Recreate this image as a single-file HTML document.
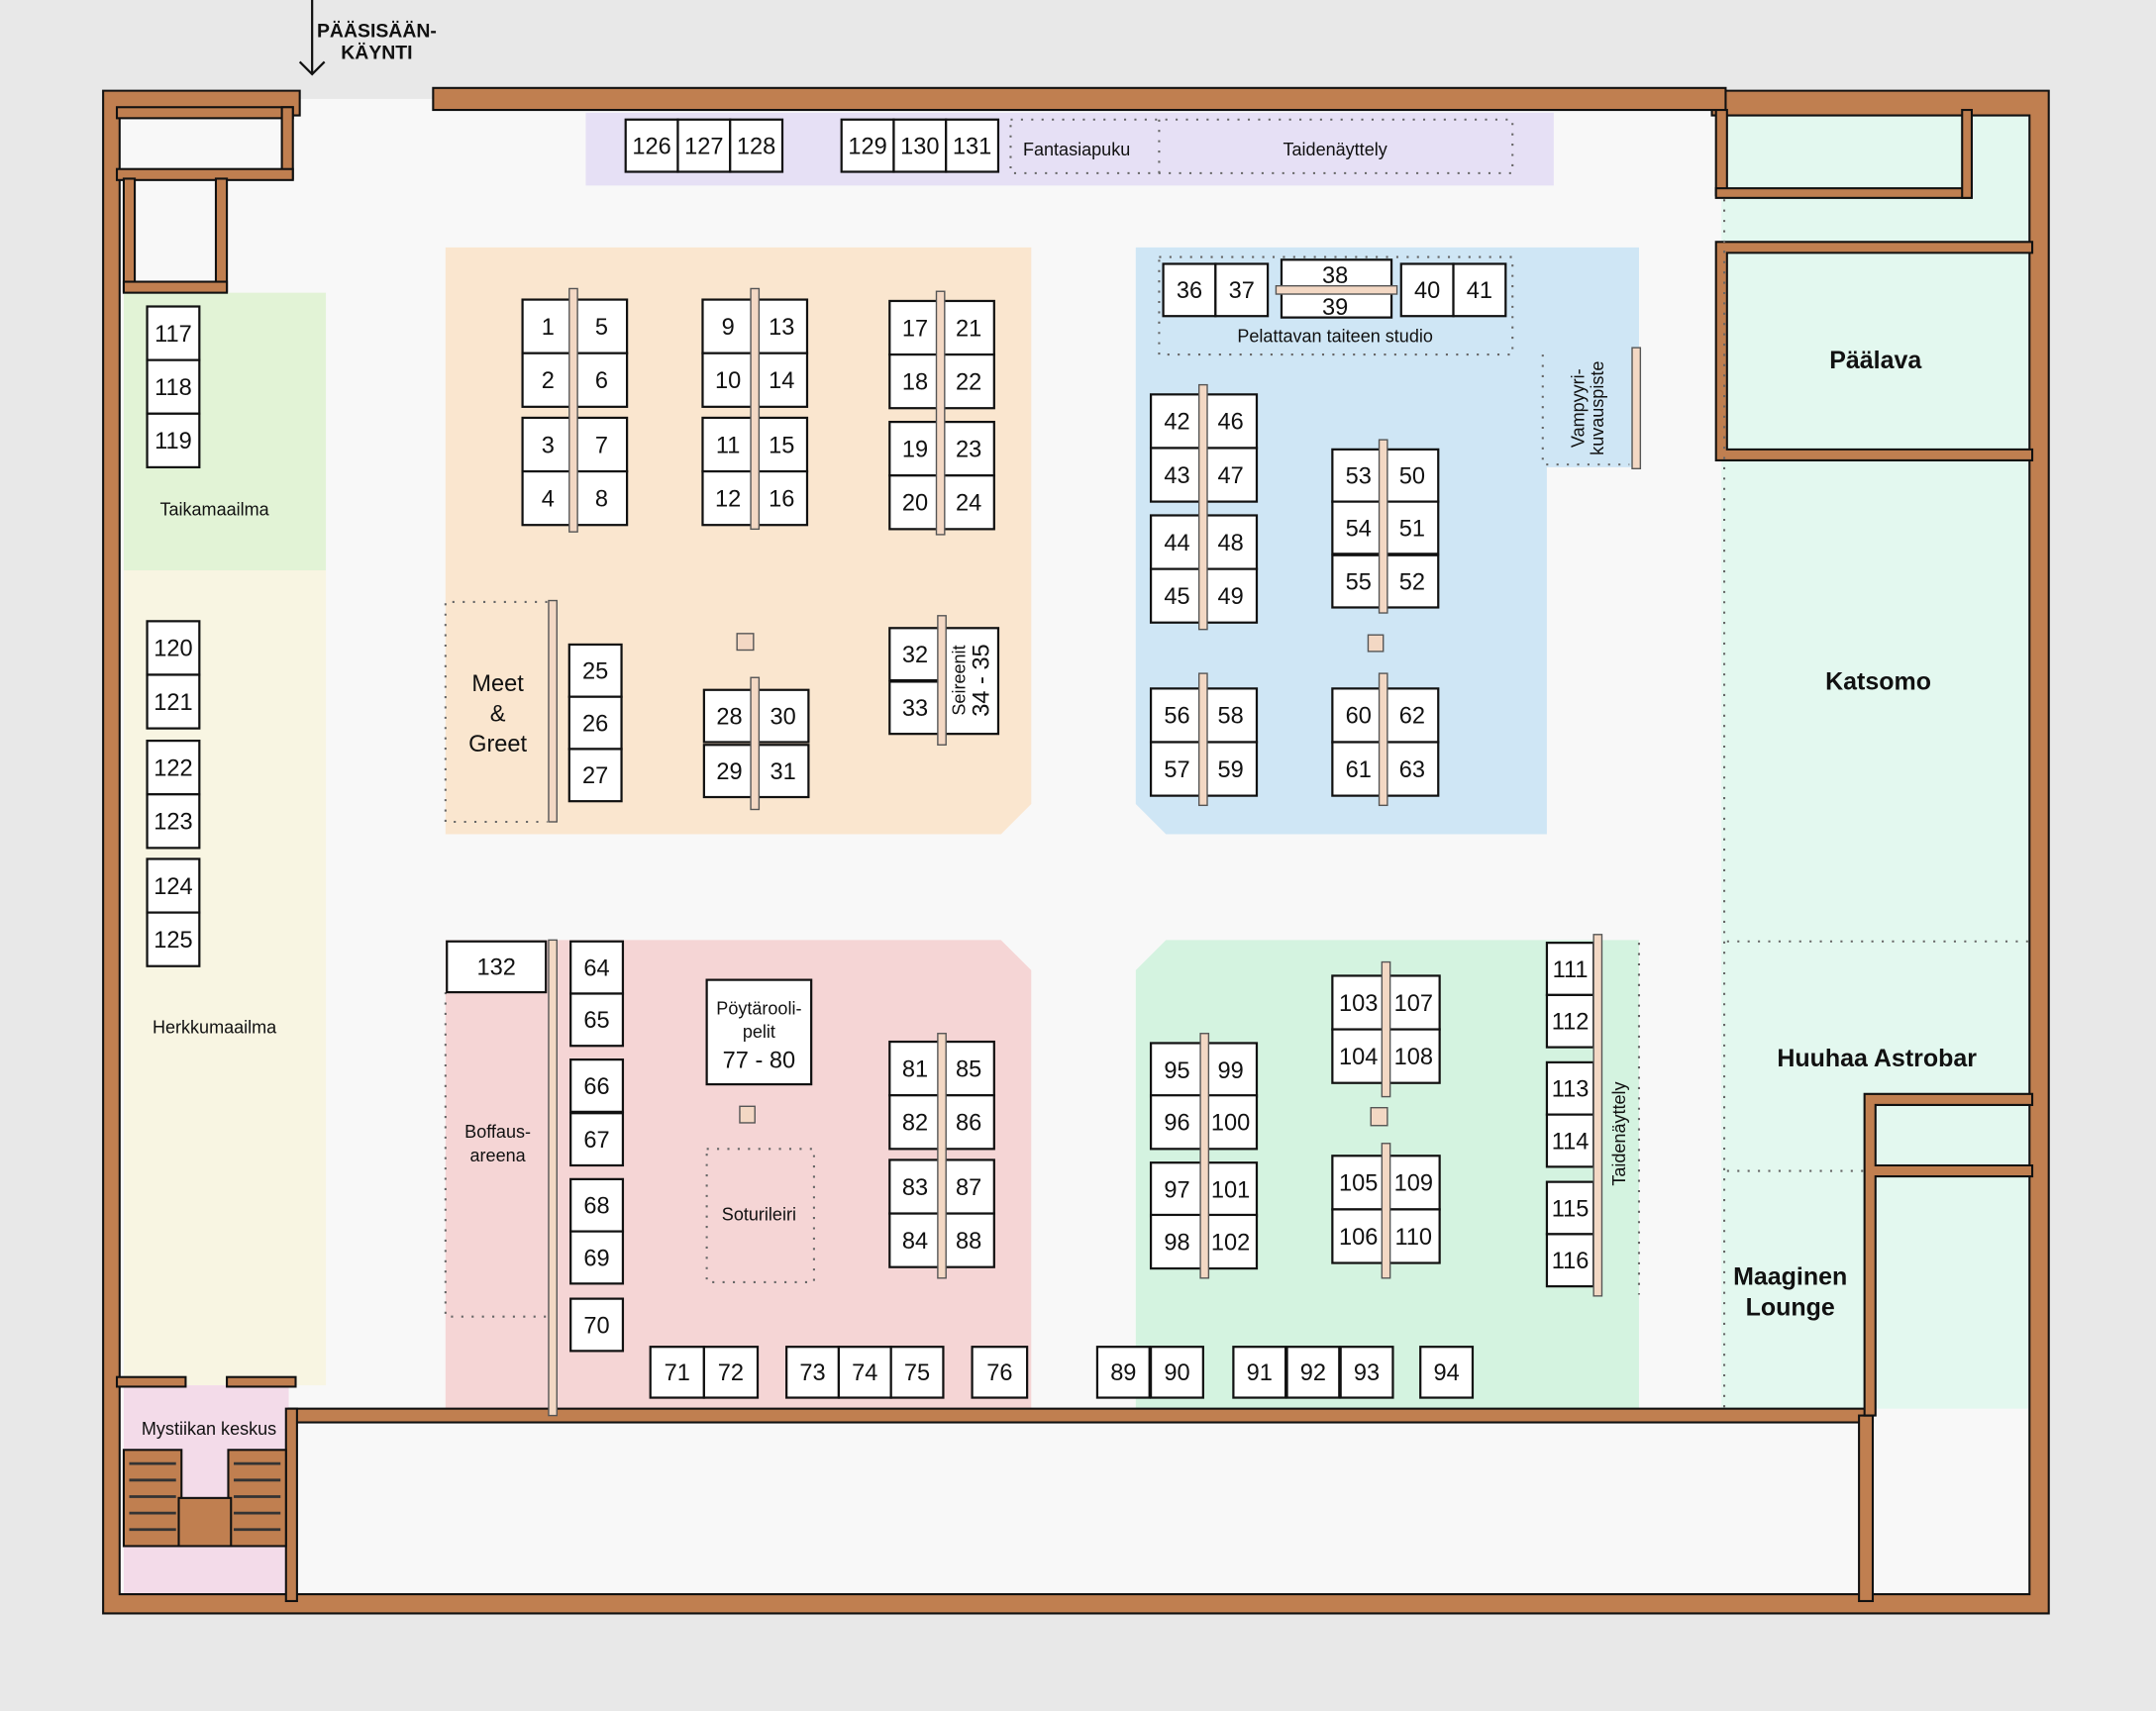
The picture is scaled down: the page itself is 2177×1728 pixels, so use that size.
<!DOCTYPE html>
<html><head><meta charset="utf-8"><style>
html,body{margin:0;padding:0;background:#e8e8e8}
svg{display:block}
text{font-family:"Liberation Sans",sans-serif;fill:#111}
.b{fill:#fff;stroke:#111;stroke-width:1.6}
.n{font-size:17px;text-anchor:middle}
.l{font-size:13px;text-anchor:middle}
.L{font-size:18px;text-anchor:middle;font-weight:bold}
.w{fill:#c07f50;stroke:#111;stroke-width:1.5}
.p{fill:#f3d8c4;stroke:#555;stroke-width:1}
.d{fill:none;stroke:#666;stroke-width:1.5;stroke-dasharray:1.5 6}
</style></head><body>
<svg width="2177" height="1728" viewBox="0 0 1568 1245" preserveAspectRatio="none" xmlns="http://www.w3.org/2000/svg">
<rect width="1568" height="1245" fill="#e8e8e8"/>
<rect x="80" y="72" width="1405" height="1095" fill="#f8f8f8"/>
<!-- zones -->
<rect x="426" y="82" width="704" height="53" fill="#e6e0f5"/>
<path d="M324 180H750V585L728 607H324Z" fill="#fae6cf"/>
<path d="M826 180H1192V340H1125V607H848L826 585Z" fill="#cfe6f5"/>
<rect x="90" y="213" width="147" height="202" fill="#e2f3d6"/>
<rect x="90" y="415" width="147" height="593" fill="#f8f5e2"/>
<path d="M324 684H728L750 706V1030H324Z" fill="#f5d5d5"/>
<path d="M848 684H1192V1030H826V706Z" fill="#d4f3e0"/>
<rect x="1252" y="82" width="223" height="943" fill="#e3f8ef"/>
<rect x="90" y="1008" width="120" height="152" fill="#f3dbe9"/>
<!-- walls -->
<path class="w" d="M75 66H218V84H87V1160H1476V84H1245V66H1490V1174H75Z"/>
<rect class="w" x="315" y="64" width="940" height="16"/>
<rect class="w" x="85" y="78" width="128" height="8"/><rect class="w" x="205" y="78" width="8" height="52"/>
<rect class="w" x="85" y="123" width="128" height="8"/>
<rect class="w" x="90" y="130" width="8" height="82"/><rect class="w" x="157" y="130" width="8" height="82"/>
<rect class="w" x="90" y="205" width="75" height="8"/>
<rect class="w" x="210" y="1025" width="1152" height="10"/>
<rect class="w" x="208" y="1025" width="8" height="140"/>
<rect class="w" x="1352" y="1030" width="10" height="135"/>
<rect class="w" x="85" y="1002" width="50" height="7"/><rect class="w" x="165" y="1002" width="50" height="7"/>
<rect class="w" x="1248" y="80" width="8" height="62"/><rect class="w" x="1248" y="137" width="185" height="7"/><rect class="w" x="1427" y="80" width="7" height="64"/>
<path class="w" d="M1248 176H1478V184H1256V327H1478V335H1248Z"/>
<path class="w" d="M1356 796H1478V804H1364V848H1478V856H1364V1030H1356Z"/>
<rect class="w" x="90" y="1055" width="42" height="70"/><rect class="w" x="166" y="1055" width="42" height="70"/><rect class="w" x="130" y="1090" width="38" height="35"/>
<g stroke="#333" stroke-width="2"><path d="M94 1065H128M94 1077H128M94 1089H128M94 1101H128M94 1113H128M170 1065H204M170 1077H204M170 1089H204M170 1101H204M170 1113H204"/></g>
<!-- entrance -->
<path d="M227 0V54M218 45L227 54L236 45" stroke="#111" stroke-width="1.6" fill="none"/>
<text x="274" y="27" style="font-size:14px;font-weight:bold" text-anchor="middle">PÄÄSISÄÄN-</text>
<text x="274" y="43" style="font-size:14px;font-weight:bold" text-anchor="middle">KÄYNTI</text>
<!-- dotted -->
<path class="d" d="M735 87H1100V126H735ZM843 87V126"/>
<rect class="d" x="843" y="187" width="257" height="71"/>
<path class="d" d="M1122 258V338H1185"/>
<path class="d" d="M398 438H324V598H398"/>
<path class="d" d="M324 722V958H398"/>
<rect class="d" x="514" y="836" width="78" height="97"/>
<path class="d" d="M1192 686V942"/>
<path class="d" d="M1254 145V1025M1256 685H1475M1256 852H1356"/>
<!-- booths -->
<g id="booths"></g>
<!-- poles -->
<g>
<rect class="p" x="414" y="210" width="6" height="177"/>
<rect class="p" x="546" y="210" width="6" height="175"/>
<rect class="p" x="681" y="212" width="6" height="177"/>
<rect class="p" x="399" y="437" width="6" height="161"/>
<rect class="p" x="546" y="493" width="6" height="96"/>
<rect class="p" x="682" y="448" width="6" height="94"/>
<rect class="p" x="872" y="280" width="6" height="178"/>
<rect class="p" x="1003" y="320" width="6" height="126"/>
<rect class="p" x="872" y="490" width="6" height="96"/>
<rect class="p" x="1003" y="490" width="6" height="96"/>
<rect class="p" x="1187" y="253" width="6" height="88"/>
<rect class="p" x="399" y="684" width="6" height="346"/>
<rect class="p" x="682" y="752" width="6" height="178"/>
<rect class="p" x="873" y="752" width="6" height="178"/>
<rect class="p" x="1005" y="700" width="6" height="98"/>
<rect class="p" x="1005" y="832" width="6" height="98"/>
<rect class="p" x="1159" y="680" width="6" height="263"/>
<rect class="p" x="536" y="461" width="12" height="12"/>
<rect class="p" x="538" y="805" width="11" height="12"/>
<rect class="p" x="995" y="462" width="11" height="12"/>
<rect class="p" x="997" y="806" width="12" height="13"/>
</g>
<!-- labels -->
<text class="l" x="783" y="113">Fantasiapuku</text>
<text class="l" x="971" y="113">Taidenäyttely</text>
<text class="l" x="971" y="249">Pelattavan taiteen studio</text>
<text class="l" x="156" y="375">Taikamaailma</text>
<text class="l" x="156" y="752">Herkkumaailma</text>
<text class="l" x="152" y="1044">Mystiikan keskus</text>
<text class="l" x="362" y="828">Boffaus-</text><text class="l" x="362" y="845">areena</text>
<text class="l" x="552" y="888">Soturileiri</text>
<text style="font-size:17px" text-anchor="middle" x="362" y="503">Meet</text>
<text style="font-size:17px" text-anchor="middle" x="362" y="525">&amp;</text>
<text style="font-size:17px" text-anchor="middle" x="362" y="547">Greet</text>
<text class="l" transform="translate(1152,297) rotate(-90)">Vampyyri-</text>
<text class="l" transform="translate(1166,297) rotate(-90)">kuvauspiste</text>
<text class="l" transform="translate(1182,825) rotate(-90)">Taidenäyttely</text>
<text class="L" x="1364" y="268">Päälava</text>
<text class="L" x="1366" y="502">Katsomo</text>
<text class="L" x="1365" y="776">Huuhaa Astrobar</text>
<text class="L" x="1302" y="935">Maaginen</text><text class="L" x="1302" y="957">Lounge</text>
</svg>
<script>
var g=document.getElementById('booths');
function B(x,y,w,h,t){var r=document.createElementNS('http://www.w3.org/2000/svg','rect');r.setAttribute('class','b');r.setAttribute('x',x);r.setAttribute('y',y);r.setAttribute('width',w);r.setAttribute('height',h);g.appendChild(r);
if(t!==''){var s=document.createElementNS('http://www.w3.org/2000/svg','text');s.setAttribute('class','n');s.setAttribute('x',x+w/2);s.setAttribute('y',y+h/2+6);s.textContent=t;g.appendChild(s);}}
function col(x,ys,w,h,start){ys.forEach(function(y,i){B(x,y,w,h,String(start+i));});}
function row(xs,y,w,h,start){xs.forEach(function(x,i){B(x,y,w,h,String(start+i));});}
row([455,493,531],87,38,38,126);row([612,650,688],87,38,38,129);
col(380,[218,257,304,343],37,39,1);col(419,[218,257,304,343],37,39,5);
col(511,[218,257,304,343],37,39,9);col(550,[218,257,304,343],37,39,13);
col(647,[219,258,307,346],37,39,17);col(686,[219,258,307,346],37,39,21);
col(414,[469,507,545],38,38,25);
col(512,[502,542],37,38,28);col(551,[502,542],37,38,30);
col(647,[457,496],37,38,32);B(686,457,40,77,'');
row([846,884],192,38,38,36);B(932,189,80,42,'');row([1019,1057],192,38,38,40);
col(837,[287,326,375,414],38,39,42);col(876,[287,326,375,414],38,39,46);
col(969,[327,365,404],38,38,53);col(1008,[327,365,404],38,38,50);
col(837,[501,540],38,39,56);col(876,[501,540],38,39,58);
col(969,[501,540],38,39,60);col(1008,[501,540],38,39,62);
B(325,685,72,37,'132');
col(415,[685,723],38,38,64);col(415,[771,810],38,38,66);col(415,[858,896],38,38,68);B(415,945,38,38,'70');
B(514,713,76,76,'');
col(647,[758,797,844,883],37,39,81);col(686,[758,797,844,883],37,39,85);
row([473,512],980,39,37,71);row([572,610,648],980,38,37,73);B(707,980,40,37,'76');
col(837,[759,797,846,884],38,39,95);col(876,[759,797,846,884],38,39,99);
col(969,[710,749],38,39,103);col(1009,[710,749],38,39,107);
col(969,[841,880],38,39,105);col(1009,[841,880],38,39,109);
col(1125,[686,724],34,38,111);col(1125,[773,811],34,38,113);col(1125,[860,898],34,38,115);
row([798,837],980,38,37,89);row([897,936,975],980,38,37,91);B(1033,980,38,37,'94');
col(107,[223,262,301],38,39,117);
col(107,[452,491],38,39,120);col(107,[539,578],38,39,122);col(107,[625,664],38,39,124);
var NS='http://www.w3.org/2000/svg';
function T(x,y,t,c,tr){var s=document.createElementNS(NS,'text');s.setAttribute('class',c);s.setAttribute('x',x);s.setAttribute('y',y);if(tr)s.setAttribute('transform',tr);s.textContent=t;g.appendChild(s);}
var r=document.createElementNS(NS,'rect');r.setAttribute('class','p');r.setAttribute('x',928);r.setAttribute('y',208);r.setAttribute('width',88);r.setAttribute('height',6);g.appendChild(r);
T(971,206,'38','n');T(971,229,'39','n');
T(552,738,'Pöytärooli-','l');T(552,755,'pelit','l');T(552,777,'77 - 80','n');
T(0,0,'Seireenit','l','translate(702,495) rotate(-90)');
T(0,0,'34 - 35','n','translate(719,495) rotate(-90)');
</script>
</body></html>
